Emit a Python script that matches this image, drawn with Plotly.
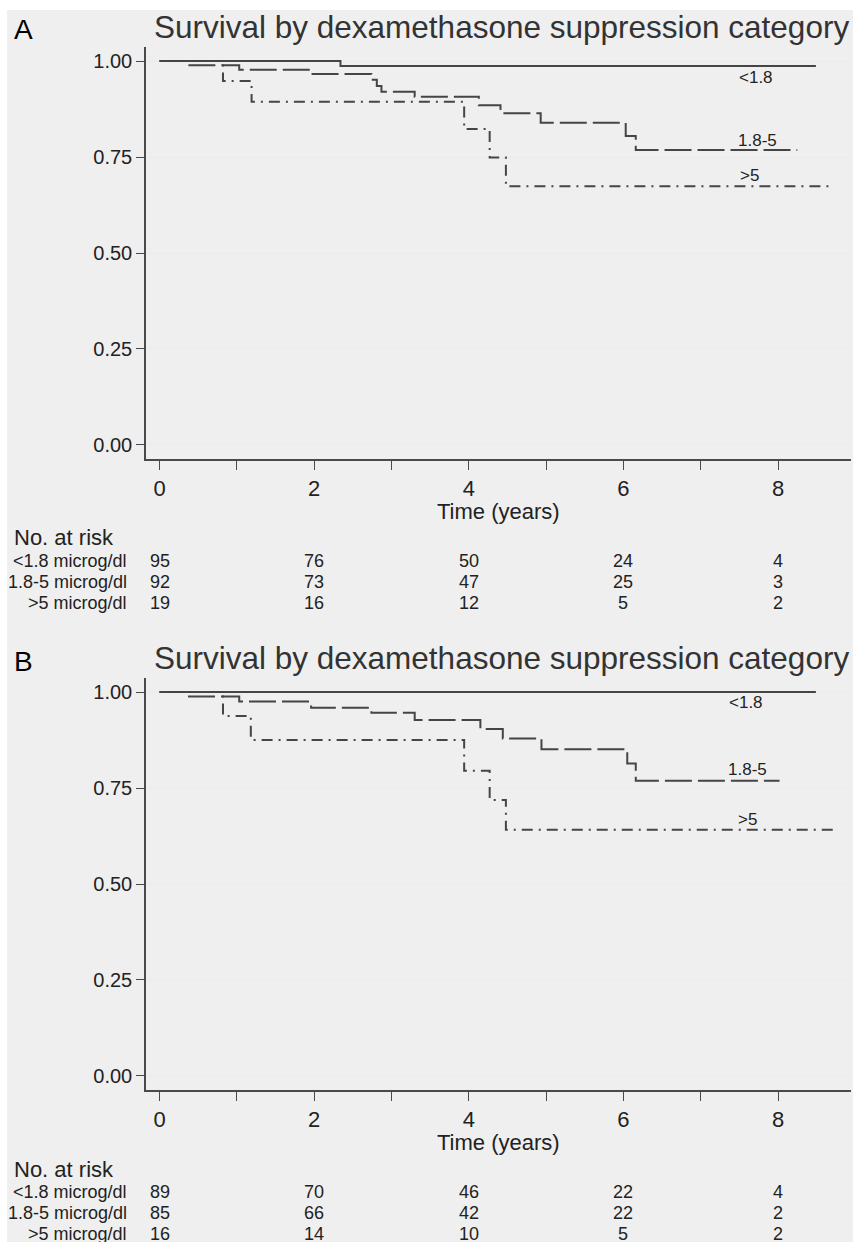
import plotly.graph_objects as go

W, H = 853, 1242

# ---------------- data ----------------
groups = ["<1.8", "1.8-5", ">5"]
group_labels = ["&lt;1.8", "1.8-5", "&gt;5"]
risk_labels = ["&lt;1.8 microg/dl", "1.8-5 microg/dl", "&gt;5 microg/dl"]
risk_times = [0, 2, 4, 6, 8]

# Panel A
A_lt18_t = [0, 2.34, 8.49]
A_lt18_s = [1.0, 0.987, 0.987]
A_mid_t = [0, 0.345, 1.03, 1.96, 2.74, 2.81, 2.87, 3.30, 4.13, 4.41, 4.93, 6.03, 6.16, 8.25]
A_mid_s = [1.0, 0.989, 0.977, 0.966, 0.951, 0.935, 0.920, 0.907, 0.885, 0.864, 0.839, 0.805, 0.768, 0.768]
A_gt5_t = [0, 0.82, 1.19, 3.94, 4.27, 4.48, 8.73]
A_gt5_s = [1.0, 0.948, 0.894, 0.823, 0.749, 0.674, 0.674]
A_risk = [[95, 76, 50, 24, 4], [92, 73, 47, 25, 3], [19, 16, 12, 5, 2]]
A_label_x = [7.71, 7.73, 7.63]
A_label_y = [0.957, 0.792, 0.703]

# Panel B
B_lt18_t = [0, 8.49]
B_lt18_s = [1.0, 1.0]
B_mid_t = [0, 0.345, 1.03, 1.96, 2.74, 3.30, 4.15, 4.44, 4.94, 6.05, 6.16, 8.02]
B_mid_s = [1.0, 0.988, 0.975, 0.959, 0.946, 0.927, 0.904, 0.879, 0.851, 0.814, 0.769, 0.769]
B_gt5_t = [0, 0.82, 1.18, 3.94, 4.27, 4.48, 8.73]
B_gt5_s = [1.0, 0.9375, 0.875, 0.795, 0.719, 0.641, 0.641]
B_risk = [[89, 70, 46, 22, 4], [85, 66, 42, 22, 2], [16, 14, 10, 5, 2]]
B_label_x = [7.58, 7.60, 7.60]
B_label_y = [0.972, 0.797, 0.667]

title_text = "Survival by dexamethasone suppression category"
x_ticks = [0, 1, 2, 3, 4, 5, 6, 7, 8]
x_ticktext = ["0", "", "2", "", "4", "", "6", "", "8"]
y_ticks = [0, 0.25, 0.5, 0.75, 1.0]
y_ticktext = ["0.00", "0.25", "0.50", "0.75", "1.00"]

# ---------------- layout helpers ----------------
FONT = "Liberation Sans, Arial, sans-serif"
LINE_COL = "#454545"
AX_COL = "#4a4a4a"
dashes = ["solid", "27px,6px", "11px,6px,2px,6px"]


def py(p):
    return 1 - p / H


def px(p):
    return p / W


fig = go.Figure()

panels = [
    dict(off=0, letter="A", xa="x", ya="y",
         curves=[(A_lt18_t, A_lt18_s), (A_mid_t, A_mid_s), (A_gt5_t, A_gt5_s)],
         risk=A_risk, lx=A_label_x, ly=A_label_y),
    dict(off=631, letter="B", xa="x2", ya="y2",
         curves=[(B_lt18_t, B_lt18_s), (B_mid_t, B_mid_s), (B_gt5_t, B_gt5_s)],
         risk=B_risk, lx=B_label_x, ly=B_label_y),
]

annotations = []
for i, p in enumerate(panels):
    off = p["off"]
    for (t, s), name, dash in zip(p["curves"], groups, dashes):
        fig.add_trace(go.Scatter(
            x=t, y=s, mode="lines", line_shape="hv", name=name,
            line=dict(color=LINE_COL, width=2, dash=dash),
            xaxis=p["xa"], yaxis=p["ya"], showlegend=False, hoverinfo="skip"))
    # curve labels
    for lab, lx, ly in zip(group_labels, p["lx"], p["ly"]):
        annotations.append(dict(text=lab, x=lx, y=ly, xref=p["xa"], yref=p["ya"],
                                showarrow=False, xanchor="center", yanchor="middle",
                                font=dict(family=FONT, size=17, color="#222")))
    # title
    annotations.append(dict(text=title_text, x=px(501), y=py(off + 27), xref="paper", yref="paper",
                            showarrow=False, xanchor="center", yanchor="middle",
                            font=dict(family=FONT, size=31.5, color="#333")))
    # panel letter
    annotations.append(dict(text=p["letter"], x=px(12), y=py(off + 30), xref="paper", yref="paper",
                            showarrow=False, xanchor="left", yanchor="middle",
                            font=dict(family=FONT, size=28, color="#000")))
    # axis title
    annotations.append(dict(text="Time (years)", x=px(498.5), y=py(off + 511), xref="paper", yref="paper",
                            showarrow=False, xanchor="center", yanchor="middle",
                            font=dict(family=FONT, size=22, color="#222")))
    # no. at risk
    annotations.append(dict(text="No. at risk", x=px(12), y=py(off + 538), xref="paper", yref="paper",
                            showarrow=False, xanchor="left", yanchor="middle",
                            font=dict(family=FONT, size=22, color="#222")))
    for r, (rl, counts) in enumerate(zip(risk_labels, p["risk"])):
        yy = py(off + 561 + 21 * r)
        annotations.append(dict(text=rl, x=px(129), y=yy, xref="paper", yref="paper",
                                showarrow=False, xanchor="right", yanchor="middle",
                                font=dict(family=FONT, size=18, color="#222")))
        for tt, c in zip(risk_times, counts):
            annotations.append(dict(text=str(c), x=tt, y=yy, xref=p["xa"], yref="paper",
                                    showarrow=False, xanchor="center", yanchor="middle",
                                    font=dict(family=FONT, size=18, color="#222")))

xrange_ = [(146 - 159.6) / 77.3, (851 - 159.6) / 77.3]
yrange_ = [-0.0365, 1.0365]

axis_common_x = dict(range=xrange_, tickmode="array", tickvals=x_ticks, ticktext=x_ticktext,
                     ticks="outside", ticklen=9, tickwidth=1.3, tickcolor=AX_COL,
                     showline=True, linecolor=AX_COL, linewidth=1.5, showgrid=False,
                     zeroline=False, tickfont=dict(family=FONT, size=22, color="#222"),
                     fixedrange=True)
axis_common_y = dict(range=yrange_, tickmode="array", tickvals=y_ticks, ticktext=y_ticktext,
                     ticks="outside", ticklen=8, tickwidth=1.3, tickcolor=AX_COL,
                     showline=True, linecolor=AX_COL, linewidth=1.5, showgrid=True,
                     gridcolor="#ebebeb", gridwidth=1.2, zeroline=False,
                     tickfont=dict(family=FONT, size=20, color="#222"), fixedrange=True)

shapes = [dict(type="rect", xref="paper", yref="paper", x0=px(7), x1=1, y0=0, y1=py(10),
               fillcolor="#efefef", line=dict(width=0), layer="below")]

fig.update_layout(
    width=W, height=H, margin=dict(l=0, r=0, t=0, b=0),
    paper_bgcolor="white", plot_bgcolor="white",
    xaxis=dict(domain=[px(146), px(851)], anchor="y", **axis_common_x),
    yaxis=dict(domain=[py(459), py(47)], anchor="x", **axis_common_y),
    xaxis2=dict(domain=[px(146), px(851)], anchor="y2", **axis_common_x),
    yaxis2=dict(domain=[py(459 + 631), py(47 + 631)], anchor="x2", **axis_common_y),
    annotations=annotations, shapes=shapes, showlegend=False,
)

fig.write_html("out.html", config={"displayModeBar": False},
               post_script="document.body.style.margin='0';document.body.style.overflow='hidden';")
